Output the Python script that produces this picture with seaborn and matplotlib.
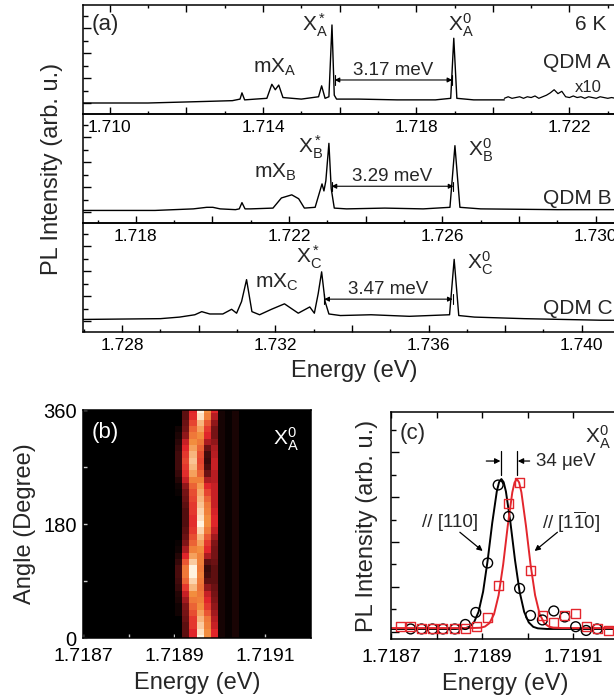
import numpy as np
import matplotlib
matplotlib.use("Agg")
import matplotlib.pyplot as plt
from matplotlib.colors import LinearSegmentedColormap
from matplotlib.ticker import MultipleLocator, FuncFormatter
import seaborn as sns

# ---------------- panel (a): PL spectra of the three QDMs ----------------
energy_A = [1.7093, 1.7110, 1.7125, 1.7132, 1.71340, 1.71345, 1.71352, 1.7138, 1.7141,
            1.71423, 1.71432, 1.71441, 1.71452, 1.7150, 1.71545, 1.71553, 1.71562,
            1.71572, 1.71580, 1.71586, 1.71592, 1.7165, 1.7175, 1.7185, 1.71890,
            1.71898, 1.71906, 1.7195, 1.7200, 1.7203]
intens_A = [0.00, 0.00, 0.02, 0.03, 0.05, 0.13, 0.04, 0.05, 0.06,
            0.24, 0.17, 0.23, 0.07, 0.05, 0.08, 0.22, 0.06,
            0.08, 1.00, 0.10, 0.05, 0.05, 0.04, 0.04, 0.06,
            0.83, 0.06, 0.04, 0.04, 0.04]
# x10 magnified tail of QDM A
energy_A10 = [1.7203, 1.7204, 1.7205, 1.7206, 1.7207, 1.7208, 1.7209, 1.7210, 1.7211,
              1.7212, 1.7213, 1.7214, 1.7215, 1.7216, 1.7217, 1.7218, 1.7219, 1.7220,
              1.7221, 1.7222, 1.7223, 1.7224, 1.7225, 1.7226, 1.7227, 1.7228, 1.7229,
              1.7230, 1.7231, 1.7232, 1.7233, 1.7234]
intens_A10 = [0.06, 0.08, 0.06, 0.07, 0.08, 0.06, 0.08, 0.07, 0.09,
              0.06, 0.08, 0.10, 0.13, 0.17, 0.12, 0.15, 0.08, 0.07,
              0.09, 0.07, 0.08, 0.06, 0.08, 0.07, 0.06, 0.08, 0.07,
              0.06, 0.07, 0.06, 0.07, 0.06]

energy_B = [1.71662, 1.7185, 1.7195, 1.71985, 1.72001, 1.72020, 1.72060, 1.72070, 1.72077,
            1.72085, 1.7210, 1.72158, 1.72180, 1.72207, 1.72225, 1.72240, 1.72268,
            1.72286, 1.72291, 1.72296, 1.72304, 1.72310, 1.72318, 1.7235, 1.7245,
            1.7255, 1.72620, 1.72633, 1.72646, 1.7270, 1.7290, 1.7308]
intens_B = [0.02, 0.02, 0.04, 0.06, 0.06, 0.04, 0.03, 0.04, 0.12,
            0.04, 0.04, 0.05, 0.18, 0.22, 0.17, 0.05, 0.06,
            0.36, 0.27, 0.40, 0.88, 0.30, 0.05, 0.04, 0.05,
            0.04, 0.06, 0.85, 0.06, 0.04, 0.03, 0.03]

energy_C = [1.72698, 1.7290, 1.7295, 1.7299, 1.73008, 1.73029, 1.73063, 1.73086, 1.73099,
            1.73112, 1.73125, 1.73139, 1.73159, 1.7319, 1.73224, 1.7326, 1.73290,
            1.73302, 1.73312, 1.73321, 1.73330, 1.73340, 1.7337, 1.7345, 1.7355,
            1.73655, 1.73667, 1.73679, 1.7372, 1.7385, 1.7405, 1.7412]
intens_C = [0.02, 0.03, 0.05, 0.08, 0.12, 0.09, 0.09, 0.15, 0.10,
            0.25, 0.53, 0.12, 0.08, 0.15, 0.22, 0.10, 0.18,
            0.10, 0.35, 0.63, 0.25, 0.09, 0.07, 0.08, 0.06,
            0.08, 0.79, 0.07, 0.05, 0.03, 0.01, 0.01]

xlim_start = [1.70930, 1.71662, 1.72698]
x_span = 0.01415
tick_labels_a = [[1.710, 1.714, 1.718, 1.722],
                 [1.718, 1.722, 1.726, 1.730],
                 [1.728, 1.732, 1.736, 1.740]]
qdm_names = ["A", "B", "C"]
x_star = [1.71580, 1.72304, 1.73321]   # X* line
x_zero = [1.71898, 1.72633, 1.73667]   # neutral exciton X0
splitting = ["3.17 meV", "3.29 meV", "3.47 meV"]

# ---------------- panel (b): polarisation map of X_A^0 ----------------
heat_edges = [1.718902, 1.718918, 1.718933, 1.718949, 1.718966, 1.718981,
              1.718997, 1.719012, 1.719027, 1.719043]
heat_angles = list(range(0, 361, 10))
heat_rows = [
    [0.00, 0.25, 0.50, 1.00, 0.75, 0.50],
    [0.00, 0.25, 0.50, 0.95, 0.75, 0.50],
    [0.00, 0.25, 0.55, 0.90, 0.72, 0.45],
    [0.00, 0.28, 0.55, 0.85, 0.70, 0.42],
    [0.05, 0.30, 0.60, 0.80, 0.62, 0.38],
    [0.05, 0.32, 0.65, 0.75, 0.55, 0.35],
    [0.08, 0.38, 0.70, 0.72, 0.50, 0.32],
    [0.10, 0.45, 0.75, 0.70, 0.45, 0.30],
    [0.15, 0.55, 0.85, 0.68, 0.35, 0.28],
    [0.18, 0.65, 0.92, 0.70, 0.25, 0.25],
    [0.20, 0.70, 1.00, 0.72, 0.18, 0.25],
    [0.20, 0.70, 1.00, 0.70, 0.15, 0.25],
    [0.15, 0.62, 0.90, 0.72, 0.25, 0.28],
    [0.10, 0.50, 0.80, 0.72, 0.40, 0.30],
    [0.05, 0.40, 0.72, 0.75, 0.50, 0.30],
    [0.03, 0.32, 0.65, 0.80, 0.55, 0.32],
    [0.00, 0.28, 0.60, 0.85, 0.62, 0.38],
    [0.00, 0.25, 0.55, 0.92, 0.70, 0.45],
    [0.00, 0.22, 0.52, 1.00, 0.75, 0.50],
    [0.00, 0.22, 0.52, 0.95, 0.75, 0.50],
    [0.00, 0.22, 0.55, 0.92, 0.72, 0.48],
    [0.00, 0.25, 0.55, 0.88, 0.70, 0.45],
    [0.00, 0.28, 0.58, 0.85, 0.65, 0.45],
    [0.03, 0.30, 0.60, 0.82, 0.58, 0.45],
    [0.05, 0.35, 0.65, 0.78, 0.50, 0.45],
    [0.10, 0.45, 0.72, 0.72, 0.40, 0.42],
    [0.15, 0.52, 0.80, 0.65, 0.28, 0.42],
    [0.18, 0.55, 0.85, 0.60, 0.20, 0.45],
    [0.18, 0.58, 0.88, 0.58, 0.15, 0.45],
    [0.18, 0.55, 0.85, 0.60, 0.18, 0.42],
    [0.15, 0.50, 0.80, 0.65, 0.28, 0.40],
    [0.12, 0.45, 0.75, 0.70, 0.40, 0.35],
    [0.08, 0.35, 0.70, 0.75, 0.50, 0.30],
    [0.05, 0.30, 0.65, 0.80, 0.55, 0.30],
    [0.00, 0.28, 0.58, 0.85, 0.62, 0.35],
    [0.00, 0.25, 0.52, 0.95, 0.72, 0.42],
    [0.00, 0.25, 0.50, 1.00, 0.75, 0.50],
]
heat_tail = [0.06, 0.02, 0.07]   # faint columns right of the line

# ---------------- panel (c): two linear polarisations ----------------
pts_E_110 = [1.718743, 1.718767, 1.718791, 1.718814, 1.718840, 1.718863, 1.718886,
             1.718912, 1.718935, 1.718958, 1.718982, 1.719006, 1.719032, 1.719057,
             1.719081, 1.719105, 1.719128, 1.719152]
pts_I_110 = [0.0, 0.0, 0.0, 0.0, 0.0, 0.03, 0.11,
             0.44, 0.96, 0.75, 0.27, 0.09, 0.06, 0.12,
             0.08, 0.015, -0.01, 0.0]
pts_E_1m10 = [1.718720, 1.718743, 1.718767, 1.718791, 1.718814, 1.718840, 1.718863,
              1.718887, 1.718912, 1.718935, 1.718958, 1.718982, 1.719006, 1.719032,
              1.719057, 1.719081, 1.719105, 1.719128, 1.719152, 1.719176]
pts_I_1m10 = [0.015, 0.015, 0.005, 0.0, 0.0, 0.0, 0.0,
              0.015, 0.075, 0.29, 0.84, 0.98, 0.39, 0.09,
              0.04, 0.09, 0.10, 0.015, 0.0, -0.01]
fit_E_110 = [1.718700, 1.718842, 1.718862, 1.718872, 1.718882, 1.718892, 1.718902,
             1.718912, 1.718922, 1.718932, 1.718937, 1.718942, 1.718947, 1.718952,
             1.718962, 1.718972, 1.718982, 1.718992, 1.719002, 1.719012, 1.719022,
             1.719042, 1.719200]
fit_I_110 = [0.0, 0.0, 0.004, 0.014, 0.044, 0.114, 0.249,
             0.458, 0.707, 0.917, 0.979, 1.0, 0.979, 0.917,
             0.707, 0.458, 0.249, 0.114, 0.044, 0.014, 0.004,
             0.0, 0.0]
fit_E_1m10 = [1.718700, 1.718876, 1.718896, 1.718906, 1.718916, 1.718926, 1.718936,
              1.718946, 1.718956, 1.718966, 1.718971, 1.718976, 1.718981, 1.718986,
              1.718996, 1.719006, 1.719016, 1.719026, 1.719036, 1.719046, 1.719056,
              1.719076, 1.719200]
fit_I_1m10 = [0.006, 0.006, 0.008, 0.016, 0.039, 0.099, 0.225,
              0.430, 0.687, 0.911, 0.977, 1.0, 0.977, 0.911,
              0.687, 0.430, 0.225, 0.099, 0.039, 0.016, 0.008,
              0.006, 0.006]
peak_110, peak_1m10 = 1.718942, 1.718976
tick_bc = [1.7187, 1.7189, 1.7191]
tick_bc_labels = ["1.7187", "1.7189", "1.7191"]
minor_bc = [1.7188, 1.7190]

# ---------------- style ----------------
sns.set_style("ticks")
plt.rcParams["font.family"] = ["Liberation Sans", "DejaVu Sans"]
plt.rcParams["mathtext.fontset"] = "custom"
plt.rcParams["mathtext.rm"] = "Liberation Sans"
plt.rcParams["mathtext.it"] = "Liberation Sans:italic"
plt.rcParams["mathtext.bf"] = "Liberation Sans:bold"
plt.rcParams["axes.linewidth"] = 1.1
plt.rcParams["axes.edgecolor"] = "black"
plt.rcParams["xtick.direction"] = "in"
plt.rcParams["ytick.direction"] = "in"
plt.rcParams["xtick.color"] = "black"
plt.rcParams["ytick.color"] = "black"

FS_TICK, FS_LAB, FS_ANN, FS_X, FS_PANEL = 12.5, 17, 14, 15, 16
RED = "#e3262d"

W, H = 614, 700
def rect(l, t, r, b):
    return [l / W, 1 - b / H, (r - l) / W, (b - t) / H]

fig = plt.figure(figsize=(6.14, 7.0), dpi=100)

# ---------------- (a) ----------------
axes_a = [fig.add_axes(rect(83, 5, 625, 114)),
          fig.add_axes(rect(83, 114, 625, 223)),
          fig.add_axes(rect(83, 223, 625, 332))]
spectra = [(energy_A, intens_A), (energy_B, intens_B), (energy_C, intens_C)]
star_lab = [(-0.00010, 0.99), (-0.00016, 0.83), (0.00002, 0.81)]
zero_lab = [(-0.00015, 1.00), (0.00034, 0.79), (0.00034, 0.74)]
m_lab = [(1.71431, 0.46), (1.72163, 0.51), (1.73204, 0.50)]
txt_y = [0.42, 0.45, 0.40]
arr_y = [0.295, 0.33, 0.28]
qdm_y = [0.477, 0.229, 0.22]

for i, ax in enumerate(axes_a):
    E, I = spectra[i]
    sns.lineplot(x=E, y=I, ax=ax, color="black", linewidth=1.0,
                 estimator=None, sort=False)
    if i == 0:
        sns.lineplot(x=energy_A10, y=intens_A10, ax=ax, color="black",
                     linewidth=0.9, estimator=None, sort=False)
    ax.set_xlim(xlim_start[i], xlim_start[i] + x_span)
    ax.set_ylim(-0.141, 1.256)
    ax.xaxis.set_major_locator(MultipleLocator(0.002))
    ax.xaxis.set_minor_locator(MultipleLocator(0.001))
    labs = tick_labels_a[i]
    ax.xaxis.set_major_formatter(FuncFormatter(
        lambda v, p, labs=labs: f"{v:.3f}" if any(abs(v - t) < 1e-7 for t in labs) else ""))
    ax.yaxis.set_major_locator(MultipleLocator(0.32))
    ax.yaxis.set_minor_locator(MultipleLocator(0.16))
    ax.set_yticklabels([])
    ax.tick_params(axis="x", which="major", length=5, width=1.0, labelsize=FS_TICK,
                   pad=4, top=(i == 0))
    ax.tick_params(axis="x", which="minor", length=2.5, width=1.0, top=(i == 0))
    ax.tick_params(axis="y", which="major", length=6, width=1.0)
    ax.tick_params(axis="y", which="minor", length=3.5, width=1.0)
    ax.set_xlabel("")
    ax.set_ylabel("")
    ax.patch.set_alpha(0)

    n = qdm_names[i]
    ax.text(x_star[i] + star_lab[i][0], star_lab[i][1], r"$\mathregular{X_%s^*}$" % n,
            ha="right", va="center", fontsize=FS_X)
    ax.text(x_zero[i] + zero_lab[i][0], zero_lab[i][1], r"$\mathregular{X_%s^0}$" % n,
            ha="left", va="center", fontsize=FS_X)
    ax.text(m_lab[i][0], m_lab[i][1], r"$\mathregular{mX_%s}$" % n,
            ha="center", va="center", fontsize=FS_X)
    ax.text((x_star[i] + x_zero[i]) / 2, txt_y[i], splitting[i],
            ha="center", va="center", fontsize=FS_ANN - 0.5)
    x0, x1 = x_star[i] + 0.00007, x_zero[i] - 0.00004
    ax.annotate("", xy=(x1, arr_y[i]), xytext=(x0, arr_y[i]),
                arrowprops=dict(arrowstyle="<|-|>", lw=0.8, color="black",
                                mutation_scale=7, shrinkA=0, shrinkB=0))
    for xb in (x0, x1):
        ax.plot([xb, xb], [arr_y[i] - 0.06, arr_y[i] + 0.06], color="black", lw=0.8)
    ax.text(0.849, qdm_y[i], f"QDM {n}", transform=ax.transAxes,
            ha="left", va="center", fontsize=FS_ANN + 1)

axes_a[0].text(0.0166, 0.817, "(a)", transform=axes_a[0].transAxes,
               ha="left", va="center", fontsize=FS_PANEL)
axes_a[0].text(0.908, 0.817, "6 K", transform=axes_a[0].transAxes,
               ha="left", va="center", fontsize=FS_ANN + 1)
axes_a[0].text(0.908, 0.239, "x10", transform=axes_a[0].transAxes,
               ha="left", va="center", fontsize=FS_ANN - 2)
axes_a[1].set_ylabel("PL Intensity (arb. u.)", fontsize=FS_LAB, labelpad=11)
axes_a[2].set_xlabel("Energy (eV)", fontsize=FS_LAB, labelpad=5)

# ---------------- (b) ----------------
axb = fig.add_axes(rect(83, 410, 311, 638))
axb.set_facecolor("black")
heat = np.hstack([np.array(heat_rows), np.tile(heat_tail, (len(heat_angles), 1))])
ang = np.array(heat_angles, dtype=float)
ang_edges = np.concatenate([[ang[0] - 5], (ang[1:] + ang[:-1]) / 2, [ang[-1] + 5]])
cmap = LinearSegmentedColormap.from_list(
    "pl", [(0.0, "#000000"), (0.25, "#5c0f10"), (0.5, "#e0242a"),
           (0.75, "#f28c3c"), (1.0, "#fff3e0")])
axb.pcolormesh(heat_edges, ang_edges, heat, cmap=cmap, vmin=0, vmax=1, shading="flat")
axb.set_xlim(1.7187, 1.7192)
axb.set_ylim(0, 360)
axb.set_xticks(tick_bc)
axb.set_xticklabels(tick_bc_labels)
axb.set_xticks(minor_bc, minor=True)
axb.set_yticks([0, 180, 360])
axb.set_yticks([90, 270], minor=True)
axb.tick_params(axis="both", which="both", color="0.8", length=3, width=1.0)
axb.tick_params(axis="x", labelsize=FS_TICK + 1.5, pad=7)
axb.tick_params(axis="y", labelsize=FS_TICK + 2, pad=4.5)
axb.set_xlabel("Energy (eV)", fontsize=FS_LAB, labelpad=5)
axb.set_ylabel("Angle (Degree)", fontsize=FS_LAB, labelpad=5)
axb.text(0.04, 0.9, "(b)", transform=axb.transAxes, color="white",
         ha="left", va="center", fontsize=FS_PANEL)
axb.text(0.833, 0.87, r"$\mathregular{X_A^0}$", transform=axb.transAxes, color="white",
         ha="left", va="center", fontsize=FS_X)

# ---------------- (c) ----------------
axc = fig.add_axes(rect(391, 412, 619, 639))
sns.lineplot(x=fit_E_110, y=fit_I_110, ax=axc, color="black", linewidth=1.4,
             estimator=None, sort=False)
sns.lineplot(x=fit_E_1m10, y=fit_I_1m10, ax=axc, color=RED, linewidth=1.4,
             estimator=None, sort=False)
sns.scatterplot(x=pts_E_110, y=pts_I_110, ax=axc, marker="o", s=50, color="black",
                facecolor="none", edgecolor="black", linewidth=1.0, zorder=3)
sns.scatterplot(x=pts_E_1m10, y=pts_I_1m10, ax=axc, marker="s", s=42, color=RED,
                facecolor="none", edgecolor=RED, linewidth=1.0, zorder=4)
axc.set_xlim(1.7187, 1.7192)
axc.set_ylim(-0.067, 1.447)
axc.set_xticks(tick_bc)
axc.set_xticklabels(tick_bc_labels)
axc.set_xticks(minor_bc, minor=True)
axc.set_yticks(np.arange(-0.02, 1.4, 0.3))
axc.set_yticks(np.arange(0.13, 1.45, 0.3), minor=True)
axc.set_yticklabels([])
axc.tick_params(axis="x", which="both", length=4, width=1.0, top=True,
                labelsize=FS_TICK + 1.5, pad=7)
axc.tick_params(axis="y", which="major", length=6, width=1.0)
axc.tick_params(axis="y", which="minor", length=3.5, width=1.0)
axc.set_xlabel("Energy (eV)", fontsize=FS_LAB, labelpad=5)
axc.set_ylabel("PL Intensity (arb. u.)", fontsize=FS_LAB, labelpad=6)

axc.text(0.04, 0.907, "(c)", transform=axc.transAxes, ha="left", va="center",
         fontsize=FS_PANEL)
axc.text(0.851, 0.89, r"$\mathregular{X_A^0}$", transform=axc.transAxes,
         ha="left", va="center", fontsize=FS_X)
for xp in (peak_110, peak_1m10):
    axc.plot([xp, xp], [1.03, 1.19], color="black", lw=0.9)
axc.annotate("", xy=(peak_110 - 0.000002, 1.12), xytext=(peak_110 - 0.000033, 1.12),
             arrowprops=dict(arrowstyle="-|>", lw=0.9, color="black",
                             mutation_scale=8, shrinkA=0, shrinkB=0))
axc.annotate("", xy=(peak_1m10 + 0.000002, 1.12), xytext=(peak_1m10 + 0.000028, 1.12),
             arrowprops=dict(arrowstyle="-|>", lw=0.9, color="black",
                             mutation_scale=8, shrinkA=0, shrinkB=0))
axc.text(peak_1m10 + 0.000043, 1.12, "34 \u03bceV", ha="left", va="center",
         fontsize=FS_ANN - 0.5)
# polarisation labels with arrows pointing at the fitted curves
axc.text(1.718829, 0.713, "// [110]", ha="center", va="center", fontsize=FS_ANN - 0.5)
axc.annotate("", xy=(1.718901, 0.52), xytext=(1.718851, 0.645),
             arrowprops=dict(arrowstyle="-|>", lw=0.9, color="black",
                             mutation_scale=8, shrinkA=0, shrinkB=0))
axc.text(1.719094, 0.713, r"// [1$\mathregular{\overline{1}}$0]", ha="center",
         va="center", fontsize=FS_ANN - 0.5)
axc.annotate("", xy=(1.719015, 0.52), xytext=(1.719065, 0.645),
             arrowprops=dict(arrowstyle="-|>", lw=0.9, color="black",
                             mutation_scale=8, shrinkA=0, shrinkB=0))

fig.savefig("out.png", dpi=100)
